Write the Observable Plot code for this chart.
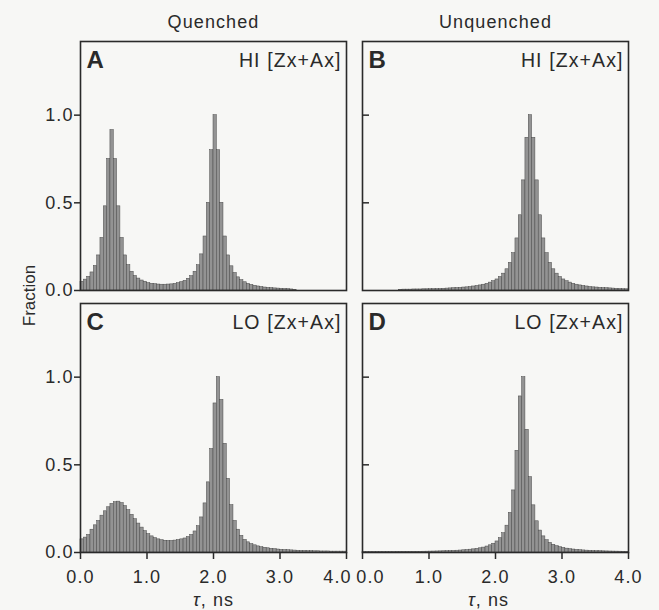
<!DOCTYPE html>
<html><head><meta charset="utf-8">
<script src="https://cdn.jsdelivr.net/npm/d3@7"></script>
<script src="https://cdn.jsdelivr.net/npm/@observablehq/plot@0.6"></script>
<style>
html,body{margin:0;padding:0;background:#f7f7f5;}
#chart svg{background:#f7f7f5;}
#chart svg text{letter-spacing:1.1px;}
#chart svg text[transform*="rotate"]{letter-spacing:0;}
</style></head><body><div id="chart"></div>
<script>
// Facet categories
const columns = ["Quenched", "Unquenched"];
const rows = ["HI", "LO"];
const panelLetters = ["A", "B", "C", "D"];
const panelTitles = ["HI [Zx+Ax]", "HI [Zx+Ax]", "LO [Zx+Ax]", "LO [Zx+Ax]"];
const xLabel = "τ, ns";
const yLabel = "Fraction";
const xTicks = [0, 1, 2, 3, 4];
const yTicks = [0, 0.5, 1.0];
const binWidth = 0.05;

// Lifetime bins (start of each bin, ns)
const tau = [0.00,0.05,0.10,0.15,0.20,0.25,0.30,0.35,0.40,0.45,
             0.50,0.55,0.60,0.65,0.70,0.75,0.80,0.85,0.90,0.95,
             1.00,1.05,1.10,1.15,1.20,1.25,1.30,1.35,1.40,1.45,
             1.50,1.55,1.60,1.65,1.70,1.75,1.80,1.85,1.90,1.95,
             2.00,2.05,2.10,2.15,2.20,2.25,2.30,2.35,2.40,2.45,
             2.50,2.55,2.60,2.65,2.70,2.75,2.80,2.85,2.90,2.95,
             3.00,3.05,3.10,3.15,3.20,3.25,3.30,3.35,3.40,3.45,
             3.50,3.55,3.60,3.65,3.70,3.75,3.80,3.85,3.90,3.95];

// A: Quenched, HI [Zx+Ax]
const fracA = [0.050,0.062,0.078,0.103,0.140,0.200,0.300,0.480,0.750,0.915,
               0.750,0.480,0.300,0.200,0.145,0.107,0.083,0.068,0.057,0.050,
               0.042,0.038,0.036,0.034,0.033,0.033,0.034,0.035,0.038,0.042,
               0.048,0.055,0.067,0.082,0.107,0.144,0.206,0.308,0.500,0.800,
               1.000,0.800,0.500,0.308,0.200,0.138,0.100,0.075,0.059,0.047,
               0.038,0.032,0.027,0.023,0.020,0.017,0.015,0.014,0.012,0.011,
               0.010,0.009,0.008,0.006,0.004,0,0,0,0,0,
               0,0,0,0,0,0,0,0,0,0];
// B: Unquenched, HI [Zx+Ax]
const fracB = [0,0,0,0,0,0,0,0,0,0,
               0,0.004,0.005,0.005,0.005,0.006,0.006,0.006,0.007,0.007,
               0.0075,0.008,0.0085,0.009,0.010,0.011,0.012,0.013,0.014,0.015,
               0.017,0.018,0.020,0.023,0.026,0.029,0.033,0.038,0.045,0.053,
               0.063,0.077,0.096,0.121,0.158,0.213,0.297,0.429,0.628,0.871,
               1.000,0.871,0.628,0.429,0.297,0.213,0.158,0.121,0.096,0.077,
               0.063,0.053,0.045,0.038,0.033,0.029,0.026,0.023,0.020,0.018,
               0.017,0.015,0.014,0.013,0.012,0.011,0.010,0.009,0.008,0.007];
// C: Quenched, LO [Zx+Ax]
const fracC = [0.075,0.085,0.100,0.130,0.155,0.180,0.210,0.235,0.258,0.277,
               0.287,0.290,0.282,0.265,0.242,0.215,0.190,0.165,0.142,0.122,
               0.105,0.092,0.082,0.075,0.070,0.067,0.066,0.066,0.068,0.071,
               0.075,0.080,0.088,0.100,0.120,0.150,0.200,0.280,0.400,0.590,
               0.850,1.000,0.870,0.620,0.420,0.270,0.180,0.130,0.095,0.072,
               0.058,0.048,0.041,0.035,0.030,0.027,0.024,0.021,0.019,0.017,
               0.015,0.014,0.013,0.012,0.011,0.010,0.009,0.009,0.008,0.008,
               0.007,0.007,0.006,0.006,0.006,0.005,0.005,0.005,0.005,0.005];
// D: Unquenched, LO [Zx+Ax]
const fracD = [0.003,0.003,0.003,0.003,0.003,0.003,0.003,0.003,0.003,0.003,
               0.004,0.004,0.004,0.004,0.004,0.004,0.004,0.0042,0.0045,0.0048,
               0.0052,0.0056,0.006,0.0065,0.0071,0.0077,0.0084,0.0092,0.0102,0.0112,
               0.0126,0.014,0.016,0.018,0.021,0.024,0.028,0.034,0.041,0.050,
               0.063,0.082,0.110,0.153,0.226,0.354,0.580,0.890,1.000,0.700,
               0.430,0.269,0.178,0.125,0.092,0.070,0.055,0.044,0.036,0.030,
               0.026,0.022,0.019,0.017,0.015,0.013,0.0118,0.0106,0.0096,0.0087,
               0.008,0.0073,0.0067,0.0062,0.0057,0.0053,0.005,0.0046,0.0043,0.0041];

const series = [fracA, fracB, fracC, fracD];
const panels = panelLetters.map((letter, i) => ({
  letter, title: panelTitles[i], col: columns[i % 2], row: rows[Math.floor(i / 2)]
}));
const data = panels.flatMap((p, i) =>
  tau.map((t, k) => ({col: p.col, row: p.row, t, v: series[i][k]}))).filter(d => d.v > 0);

// x tick labels for bottom row; the two inner edge labels are nudged apart
const xLabels = columns.flatMap(col => xTicks.map(t => ({col, row: rows[1], t})));
const isQEnd = d => d.col === columns[0] && d.t === xTicks[xTicks.length - 1];
const isUStart = d => d.col === columns[1] && d.t === xTicks[0];
const fmt = d3.format(".1f");

const ink = "#2a2a2a";
const font = "Liberation Sans, Arial, Helvetica, sans-serif";
const labelOpts = {fx: "col", fy: "row", x: "t", text: d => fmt(d.t), frameAnchor: "bottom",
  lineAnchor: "top", dy: 18, fontSize: 18, fill: ink};

const chart = Plot.plot({
  width: 659, height: 610,
  marginLeft: 79, marginRight: 31, marginTop: 40, marginBottom: 57,
  style: {background: "#f7f7f5", color: ink, fontFamily: font},
  x: {domain: [0, 4]},
  y: {domain: [0, 1.42]},
  fx: {domain: columns, paddingInner: 0.057, paddingOuter: 0},
  fy: {domain: rows, paddingInner: 0.0494, paddingOuter: 0, axis: null},
  marks: [
    Plot.rectY(data, {x1: "t", x2: d => d.t + binWidth, y: "v", fx: "col", fy: "row",
      fill: "#939393", stroke: "#484848", strokeWidth: 0.5}),
    Plot.frame({stroke: ink, strokeWidth: 1.6}),
    Plot.text(panels, {fx: "col", fy: "row", text: "letter", frameAnchor: "top-left",
      lineAnchor: "top", dx: 6, dy: 9, fontSize: 24, fontWeight: "bold", fill: ink}),
    Plot.text(panels, {fx: "col", fy: "row", text: "title", frameAnchor: "top-right",
      lineAnchor: "top", dx: -5, dy: 11.5, fontSize: 19.5, fill: ink}),
    Plot.axisY({anchor: "left", ticks: yTicks, tickFormat: fmt, tickSize: 6,
      tickPadding: 1, label: null, fontSize: 18, strokeWidth: 1.5}),
    Plot.axisY({anchor: "left", facetAnchor: "right", ticks: yTicks.filter(d => d > 0),
      tickFormat: () => "", tickSize: -7, label: null, strokeWidth: 1.5}),
    Plot.axisX({anchor: "bottom", ticks: xTicks, tickFormat: () => "", tickSize: 7,
      label: null, strokeWidth: 1.5}),
    Plot.text(xLabels.filter(d => !isQEnd(d) && !isUStart(d)), labelOpts),
    Plot.text(xLabels.filter(isQEnd), {...labelOpts, dx: -9}),
    Plot.text(xLabels.filter(isUStart), {...labelOpts, dx: 8}),
    Plot.axisFx({anchor: "top", label: null, tickSize: 0, tickPadding: 14, fontSize: 18}),
    Plot.text([{col: columns[0], row: rows[1], text: xLabel}], {fx: "col", fy: "row", text: "text",
      frameAnchor: "bottom", lineAnchor: "bottom", dy: 53, fontSize: 18, fill: ink}),
    Plot.text([{col: columns[1], row: rows[1], text: xLabel}], {fx: "col", fy: "row", text: "text",
      frameAnchor: "bottom", lineAnchor: "bottom", dx: -7, dy: 53, fontSize: 18, fill: ink}),
    Plot.text([{col: columns[0], row: rows[0], text: yLabel}], {fx: "col", fy: "row", text: "text",
      frameAnchor: "bottom-left", textAnchor: "middle", lineAnchor: "middle", rotate: -90,
      dx: -51, dy: 5, fontSize: 17, fill: ink})
  ]
});

d3.select(chart).selectAll("text").filter(function () { return this.textContent === xLabel; })
  .each(function () {
    const t = d3.select(this);
    t.text(null);
    t.append("tspan").attr("font-style", "italic").text("τ");
    t.append("tspan").text(", ns");
  });

document.getElementById("chart").appendChild(chart);
</script></body></html>
